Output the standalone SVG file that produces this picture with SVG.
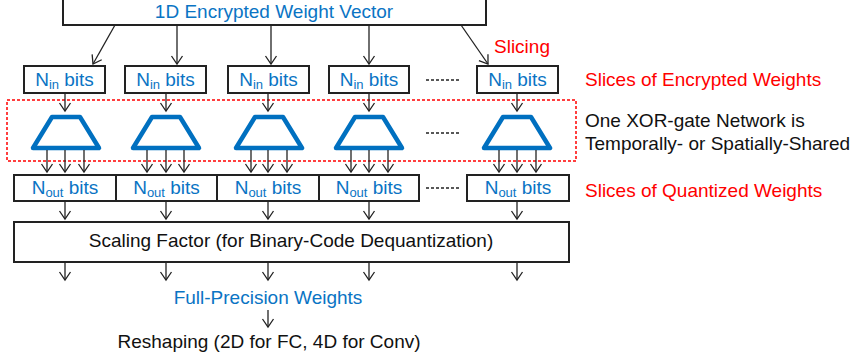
<svg xmlns="http://www.w3.org/2000/svg" width="854" height="362" viewBox="0 0 854 362">
<defs>
<marker id="ah" viewBox="0 0 12 14" markerWidth="12" markerHeight="14" refX="10" refY="7" markerUnits="userSpaceOnUse" orient="auto">
<path d="M2,1.5 L10,7 L2,12.5" fill="none" stroke="#222" stroke-width="1.3"/>
</marker>
<style>
.box{fill:#fff;stroke:#222;stroke-width:2}
.t{font-family:"Liberation Sans",Arial,sans-serif;font-size:19px}
.blue{fill:#0a74c4}
.red{fill:#FF0000}
.blk{fill:#111}
.sub{font-size:13px}
.trap{fill:none;stroke:#0070C0;stroke-width:4.5;stroke-linejoin:round}
.ar{stroke:#222;stroke-width:1.3;fill:none;marker-end:url(#ah)}
.dash{stroke:#222;stroke-width:1.5;stroke-dasharray:3 2}
</style>
</defs>

<g id="encrypted-vector">
<rect class="box" x="63" y="-10" width="423" height="35"/>
<text class="t blue" x="274" y="18" text-anchor="middle">1D Encrypted Weight Vector</text>
</g>

<g id="shared-region">
<rect x="7" y="100" width="569" height="61" fill="none" stroke="#FF0000" stroke-width="1.5" stroke-dasharray="3 2"/>
</g>

<g id="nin1"><rect class="box" x="24" y="66" width="81" height="27"/><text class="t blue" x="64.5" y="86" text-anchor="middle">N<tspan class="sub" dy="3">in</tspan><tspan dy="-3"> bits</tspan></text></g>
<g id="nin2"><rect class="box" x="125" y="66" width="81" height="27"/><text class="t blue" x="165.5" y="86" text-anchor="middle">N<tspan class="sub" dy="3">in</tspan><tspan dy="-3"> bits</tspan></text></g>
<g id="nin3"><rect class="box" x="228" y="66" width="81" height="27"/><text class="t blue" x="268.5" y="86" text-anchor="middle">N<tspan class="sub" dy="3">in</tspan><tspan dy="-3"> bits</tspan></text></g>
<g id="nin4"><rect class="box" x="329" y="66" width="80" height="27"/><text class="t blue" x="369" y="86" text-anchor="middle">N<tspan class="sub" dy="3">in</tspan><tspan dy="-3"> bits</tspan></text></g>
<g id="nin5"><rect class="box" x="477" y="66" width="81" height="27"/><text class="t blue" x="517.5" y="86" text-anchor="middle">N<tspan class="sub" dy="3">in</tspan><tspan dy="-3"> bits</tspan></text></g>

<g id="xor1"><polygon class="trap" points="52,117 80,117 99,148 33,148"/></g>
<g id="xor2"><polygon class="trap" points="152,117 180,117 199,148 133,148"/></g>
<g id="xor3"><polygon class="trap" points="255,117 283,117 302,148 236,148"/></g>
<g id="xor4"><polygon class="trap" points="355,117 383,117 402,148 336,148"/></g>
<g id="xor5"><polygon class="trap" points="503,117 531,117 550,148 484,148"/></g>

<g id="nout1"><rect class="box" x="14" y="175" width="102" height="26"/><text class="t blue" x="65" y="194" text-anchor="middle">N<tspan class="sub" dy="3">out</tspan><tspan dy="-3"> bits</tspan></text></g>
<g id="nout2"><rect class="box" x="116" y="175" width="101" height="26"/><text class="t blue" x="166.5" y="194" text-anchor="middle">N<tspan class="sub" dy="3">out</tspan><tspan dy="-3"> bits</tspan></text></g>
<g id="nout3"><rect class="box" x="217" y="175" width="102" height="26"/><text class="t blue" x="268" y="194" text-anchor="middle">N<tspan class="sub" dy="3">out</tspan><tspan dy="-3"> bits</tspan></text></g>
<g id="nout4"><rect class="box" x="319" y="175" width="100" height="26"/><text class="t blue" x="369" y="194" text-anchor="middle">N<tspan class="sub" dy="3">out</tspan><tspan dy="-3"> bits</tspan></text></g>
<g id="nout5"><rect class="box" x="467" y="175" width="102" height="26"/><text class="t blue" x="518" y="194" text-anchor="middle">N<tspan class="sub" dy="3">out</tspan><tspan dy="-3"> bits</tspan></text></g>

<g id="scaling">
<rect class="box" x="14" y="222" width="555" height="40"/>
<text class="t blk" x="291" y="247" text-anchor="middle">Scaling Factor (for Binary-Code Dequantization)</text>
</g>

<g id="full-precision"><text class="t blue" x="268" y="304" text-anchor="middle">Full-Precision Weights</text></g>
<g id="reshaping"><text class="t blk" x="269" y="348" text-anchor="middle">Reshaping (2D for FC, 4D for Conv)</text></g>

<g id="labels">
<text class="t red" x="494" y="53">Slicing</text>
<text class="t red" x="585" y="86">Slices of Encrypted Weights</text>
<text class="t blk" x="585" y="127">One XOR-gate Network is</text>
<text class="t blk" x="585" y="150">Temporally- or Spatially-Shared</text>
<text class="t red" x="585" y="197">Slices of Quantized Weights</text>
</g>

<g id="connectors">
<line class="ar" x1="115" y1="25" x2="93" y2="64"/>
<line class="ar" x1="177" y1="25" x2="177" y2="64"/>
<line class="ar" x1="271" y1="25" x2="271" y2="64"/>
<line class="ar" x1="369" y1="25" x2="369" y2="64"/>
<line class="ar" x1="461" y1="25" x2="488" y2="64"/>

<line class="ar" x1="65" y1="93" x2="65" y2="111"/>
<line class="ar" x1="166" y1="93" x2="166" y2="111"/>
<line class="ar" x1="268" y1="93" x2="268" y2="111"/>
<line class="ar" x1="369" y1="93" x2="369" y2="111"/>
<line class="ar" x1="517" y1="93" x2="517" y2="111"/>

<line class="ar" x1="47" y1="150" x2="47" y2="172"/>
<line class="ar" x1="65" y1="150" x2="65" y2="172"/>
<line class="ar" x1="84" y1="150" x2="84" y2="172"/>
<line class="ar" x1="147" y1="150" x2="147" y2="172"/>
<line class="ar" x1="166" y1="150" x2="166" y2="172"/>
<line class="ar" x1="184" y1="150" x2="184" y2="172"/>
<line class="ar" x1="251" y1="150" x2="251" y2="172"/>
<line class="ar" x1="268" y1="150" x2="268" y2="172"/>
<line class="ar" x1="287" y1="150" x2="287" y2="172"/>
<line class="ar" x1="351" y1="150" x2="351" y2="172"/>
<line class="ar" x1="369" y1="150" x2="369" y2="172"/>
<line class="ar" x1="388" y1="150" x2="388" y2="172"/>
<line class="ar" x1="499" y1="150" x2="499" y2="172"/>
<line class="ar" x1="517" y1="150" x2="517" y2="172"/>
<line class="ar" x1="536" y1="150" x2="536" y2="172"/>

<line class="ar" x1="65" y1="201" x2="65" y2="219"/>
<line class="ar" x1="166" y1="201" x2="166" y2="219"/>
<line class="ar" x1="268" y1="201" x2="268" y2="219"/>
<line class="ar" x1="369" y1="201" x2="369" y2="219"/>
<line class="ar" x1="517" y1="201" x2="517" y2="219"/>

<line class="ar" x1="65" y1="262" x2="65" y2="280"/>
<line class="ar" x1="166" y1="262" x2="166" y2="280"/>
<line class="ar" x1="268" y1="262" x2="268" y2="280"/>
<line class="ar" x1="369" y1="262" x2="369" y2="280"/>
<line class="ar" x1="517" y1="262" x2="517" y2="280"/>

<line class="ar" x1="268" y1="310" x2="268" y2="327"/>

<line class="dash" x1="426" y1="80" x2="461" y2="80"/>
<line class="dash" x1="426" y1="133" x2="461" y2="133"/>
<line class="dash" x1="426" y1="188" x2="461" y2="188"/>
</g>
</svg>
